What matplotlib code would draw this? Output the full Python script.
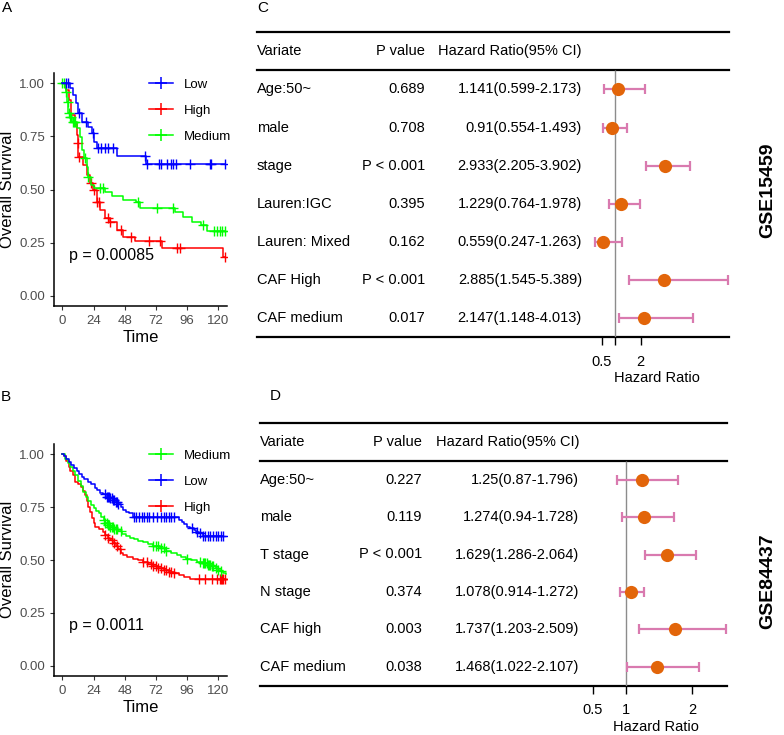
import numpy as np
import matplotlib
matplotlib.use('Agg')
import matplotlib.pyplot as plt
from matplotlib.lines import Line2D

plt.rcParams['font.family'] = ['Liberation Sans', 'DejaVu Sans']

W, H = 784, 735

## --- dati curve di sopravvivenza (lettura approssimata) ---
# pannello A
a_low_t = [6, 8.5, 10.3, 12.3, 14.9, 20, 22.6, 24.6, 26.5, 41.8, 64.5]
a_low_s = [0.976, 0.945, 0.907, 0.859, 0.82, 0.796, 0.765, 0.725, 0.694, 0.656, 0.618]
a_low_cens = [3, 4.5, 13, 18, 23.5, 27.4, 30, 32.5, 35, 39, 63.5, 65, 74.6, 75.6, 80.8,
              83.4, 85.4, 87.5, 98.2, 113.6, 114.4, 125.5]

a_high_t = [3, 5, 7, 9.7, 11, 11.7, 12.3, 16, 18.8, 21.3, 23.8, 26.5, 29, 32.8, 36.7,
            41.8, 47, 56, 76.5, 124]
a_high_s = [0.97, 0.92, 0.85, 0.81, 0.757, 0.72, 0.655, 0.615, 0.568, 0.53, 0.498, 0.443,
            0.403, 0.364, 0.348, 0.31, 0.278, 0.259, 0.223, 0.184]
a_high_cens = [12, 13, 22, 24.5, 27, 28, 35, 37, 45, 53, 67, 75, 88, 90.5, 125.5]

a_med_t = [2.5, 3.4, 4.6, 6, 7.2, 11, 13.6, 15.4, 16.9, 18.7, 20, 22, 24, 32.8, 38, 47,
           57, 60, 87, 93, 99.5, 107, 111]
a_med_s = [0.96, 0.913, 0.86, 0.84, 0.82, 0.788, 0.749, 0.686, 0.647, 0.607, 0.56, 0.521,
           0.506, 0.49, 0.47, 0.45, 0.44, 0.415, 0.395, 0.372, 0.348, 0.333, 0.305]
a_med_cens = [0, 1, 3, 4, 5, 6, 7, 8, 9, 10, 17.5, 20, 29, 31.5, 58.5, 72.5, 85.4, 108.5,
              117, 119, 121, 123, 125.5]

# pannello B
b_low_t = [1, 3, 5, 7, 9, 11, 13, 15, 17, 20, 22, 25, 27, 29, 31, 34, 37, 39, 41, 43, 45,
           47, 49, 51, 54, 90, 92, 94, 96, 98, 101, 103, 105, 108]
b_low_s = [0.99, 0.98, 0.965, 0.95, 0.935, 0.92, 0.905, 0.894, 0.885, 0.87, 0.86, 0.84,
           0.83, 0.815, 0.81, 0.80, 0.795, 0.785, 0.775, 0.765, 0.75, 0.737, 0.728, 0.72,
           0.705, 0.69, 0.68, 0.67, 0.658, 0.65, 0.642, 0.634, 0.626, 0.615]
b_low_cens = [33, 34, 35, 36, 37, 38, 39, 40, 41, 42, 43, 55, 57, 59, 61, 63, 65, 67, 70,
              73, 76, 78, 80, 82, 84, 86, 100, 104, 106, 108, 110, 112, 114, 116, 118,
              120, 122, 124]

b_med_t = [2, 4, 6, 8, 10, 12, 14, 16, 18, 20, 22, 24, 26, 28, 30, 32, 33, 35, 37, 40,
           43, 46, 49, 52, 55, 58, 62, 66, 70, 75, 80, 84, 88, 91, 95, 99, 104, 108, 112,
           115, 118, 120, 122, 124, 126]
b_med_s = [0.98, 0.96, 0.94, 0.92, 0.90, 0.875, 0.85, 0.82, 0.80, 0.78, 0.76, 0.745,
           0.73, 0.72, 0.705, 0.69, 0.675, 0.665, 0.655, 0.645, 0.635, 0.625, 0.615, 0.605,
           0.60, 0.59, 0.585, 0.575, 0.565, 0.555, 0.545, 0.535, 0.525, 0.515, 0.505, 0.50,
           0.492, 0.485, 0.478, 0.47, 0.46, 0.455, 0.448, 0.44, 0.435]
b_med_cens = [32, 33, 34, 35, 36, 37, 38, 39, 40, 41, 42, 45, 70, 72, 74, 76, 78, 80, 96,
              106, 108, 109, 110, 111, 112, 113, 114, 115, 116, 118, 120, 122]

b_high_t = [1, 3, 5, 6, 8, 10, 12, 14, 16, 17.5, 19, 20, 21, 22.6, 24, 25.5, 28, 31, 33,
            35, 37, 39, 41, 43, 45, 47, 50, 54, 58, 62, 66, 70, 74, 78, 82, 86, 90, 94, 98]
b_high_s = [0.99, 0.97, 0.94, 0.92, 0.90, 0.87, 0.86, 0.845, 0.825, 0.807, 0.78, 0.752,
            0.725, 0.697, 0.675, 0.657, 0.645, 0.632, 0.62, 0.605, 0.595, 0.58, 0.565,
            0.55, 0.535, 0.525, 0.516, 0.506, 0.498, 0.49, 0.48, 0.47, 0.46, 0.452, 0.445,
            0.437, 0.428, 0.42, 0.41]
b_high_cens = [33, 35, 38, 40, 42, 44, 62, 65, 68, 70, 72, 74, 76, 78, 80, 82, 84, 86,
               105, 110, 115, 119, 121, 122, 123, 124, 125]

## --- dati forest plot ---
c_vars = ['Age:50~', 'male', 'stage', 'Lauren:IGC', 'Lauren: Mixed', 'CAF High', 'CAF medium']
c_p = ['0.689', '0.708', 'P < 0.001', '0.395', '0.162', 'P < 0.001', '0.017']
c_hr = [1.141, 0.91, 2.933, 1.229, 0.559, 2.885, 2.147]
c_lo = [0.599, 0.554, 2.205, 0.764, 0.247, 1.545, 1.148]
c_hi = [2.173, 1.493, 3.902, 1.978, 1.263, 5.389, 4.013]

d_vars = ['Age:50~', 'male', 'T stage', 'N stage', 'CAF high', 'CAF medium']
d_p = ['0.227', '0.119', 'P < 0.001', '0.374', '0.003', '0.038']
d_hr = [1.25, 1.274, 1.629, 1.078, 1.737, 1.468]
d_lo = [0.87, 0.94, 1.286, 0.914, 1.203, 1.022]
d_hi = [1.796, 1.728, 2.064, 1.272, 2.509, 2.107]

BLUE, RED, GREEN = '#0000FF', '#FF0000', '#00FF00'
PINK, ORANGE = '#D97AAF', '#E2650A'


def px_axes(fig, x0, y0, x1, y1):
    # rettangolo in pixel (origine in alto a sinistra)
    return fig.add_axes([x0 / W, 1 - y1 / H, (x1 - x0) / W, (y1 - y0) / H])


def step_at(t_ev, s_ev, t):
    t_ev = np.asarray(t_ev)
    idx = np.searchsorted(t_ev, t, side='right') - 1
    return np.where(idx >= 0, np.asarray(s_ev)[np.clip(idx, 0, None)], 1.0)


def km_panel(ax, curves, order, pval):
    for name, (t, s, cens, col) in curves.items():
        xs = np.concatenate([[0], t, [max(max(t), max(cens))]])
        ys = np.concatenate([[1.0], s, [s[-1]]])
        ax.step(xs, ys, where='post', color=col, lw=1.1)
        ax.plot(cens, step_at(t, s, np.asarray(cens, float)), ls='none', marker='+',
                color=col, ms=7, mew=1.0)
    ax.set_xlim(-6.2, 126.5)
    ax.set_ylim(-0.047, 1.05)
    ax.set_xticks([0, 24, 48, 72, 96, 120])
    ax.set_yticks([0, 0.25, 0.5, 0.75, 1.0])
    ax.set_yticklabels(['0.00', '0.25', '0.50', '0.75', '1.00'])
    for sp in ['top', 'right']:
        ax.spines[sp].set_visible(False)
    for sp in ['left', 'bottom']:
        ax.spines[sp].set_linewidth(1.1)
    ax.tick_params(labelsize=9.5, length=3, width=0.8, colors='#333333', labelcolor='#4D4D4D')
    ax.set_ylabel('Overall Survival', fontsize=12, labelpad=3)
    ax.set_xlabel('Time', fontsize=12, labelpad=2)
    ax.text(5, 0.19, pval, fontsize=11.5, va='center', ha='left')
    handles = [Line2D([], [], color=curves[k][3], marker='+', ms=9, mew=1.1, lw=1.1)
               for k in order]
    ax.legend(handles, order, loc='upper left', bbox_to_anchor=(0.55, 0.975), frameon=False,
              fontsize=9.5, handlelength=1.8, handletextpad=0.8, labelspacing=1.05,
              borderpad=0, borderaxespad=0)


def forest_panel(fig, box, vars_, pv, hr, lo, hi, cols, fx, ticklabels):
    x0, y0, x1, y1 = box
    n = len(vars_)
    ax_t = px_axes(fig, x0, y0, x1, y1)
    ax_t.set_xlim(0, 1)
    ax_t.set_ylim(n - 0.5, -1.5)
    ax_t.axis('off')
    for yy in [-1.5, -0.5, n - 0.5]:
        ax_t.axhline(yy, color='black', lw=1.6, clip_on=False)
    fs = 10.5
    ax_t.text(0, -1, 'Variate', fontsize=fs, va='center', ha='left')
    ax_t.text(cols[0], -1, 'P value', fontsize=fs, va='center', ha='right')
    ax_t.text(cols[1], -1, 'Hazard Ratio(95% CI)', fontsize=fs, va='center', ha='right')
    for i in range(n):
        ax_t.text(0, i, vars_[i], fontsize=fs, va='center', ha='left')
        ax_t.text(cols[0], i, pv[i], fontsize=fs, va='center', ha='right')
        ax_t.text(cols[1], i, f'{hr[i]}({lo[i]}-{hi[i]})', fontsize=fs, va='center', ha='right')

    # fx: (pixel sinistro, pixel destro, pixel di HR=1, pixel per unità)
    fl, fr, p1, ppu = fx
    ax_f = px_axes(fig, fl, y0, fr, y1)
    ax_f.set_xlim(1 + (fl - p1) / ppu, 1 + (fr - p1) / ppu)
    ax_f.set_ylim(n - 0.5, -1.5)
    ax_f.patch.set_visible(False)
    for sp in ax_f.spines.values():
        sp.set_visible(False)
    hr_a, lo_a, hi_a = np.array(hr), np.array(lo), np.array(hi)
    yy = np.arange(n)
    ax_f.vlines(1, -0.5, n - 0.5, color='#8C8C8C', lw=1.0)
    ax_f.errorbar(hr_a, yy, xerr=[hr_a - lo_a, hi_a - hr_a], fmt='none', ecolor=PINK,
                  elinewidth=1.6, capsize=3.5, capthick=1.6)
    ax_f.plot(hr_a, yy, 'o', color=ORANGE, ms=9.5, mec='none')
    ax_f.set_yticks([])
    ax_f.set_xticks([0.5, 1, 2])
    ax_f.set_xticklabels(ticklabels)
    ax_f.tick_params(axis='x', direction='out', length=5.5, width=1.0, pad=7, labelsize=fs)
    ax_f.set_xlabel('Hazard Ratio', fontsize=fs, labelpad=2)
    return ax_t, ax_f


fig = plt.figure(figsize=(W / 100, H / 100), dpi=100)

ax_a = px_axes(fig, 54.3, 72.7, 226.7, 305.7)
km_panel(ax_a, {'High': (a_high_t, a_high_s, a_high_cens, RED),
                'Medium': (a_med_t, a_med_s, a_med_cens, GREEN),
                'Low': (a_low_t, a_low_s, a_low_cens, BLUE)},
         ['Low', 'High', 'Medium'], 'p = 0.00085')

ax_b = px_axes(fig, 54.3, 443.7, 226.7, 675.7)
km_panel(ax_b, {'High': (b_high_t, b_high_s, b_high_cens, RED),
                'Medium': (b_med_t, b_med_s, b_med_cens, GREEN),
                'Low': (b_low_t, b_low_s, b_low_cens, BLUE)},
         ['Medium', 'Low', 'High'], 'p = 0.0011')

forest_panel(fig, (257, 32.3, 729, 337.3), c_vars, c_p, c_hr, c_lo, c_hi,
             ((425 - 257) / 472, (582 - 257) / 472), (585, 729, 614.7, 25.9),
             ['0.5', '', '2'])
forest_panel(fig, (260, 423.3, 727, 685.7), d_vars, d_p, d_hr, d_lo, d_hi,
             ((422 - 260) / 467, (579 - 260) / 467), (585, 727, 625.7, 66.3),
             ['0.5', '1', '2'])

fig.text(768 / W, 1 - 190 / H, 'GSE15459', rotation=90, fontsize=14, fontweight='bold',
         ha='center', va='center')
fig.text(768 / W, 1 - 581 / H, 'GSE84437', rotation=90, fontsize=14, fontweight='bold',
         ha='center', va='center')

for lab, (x, y) in {'A': (7, 8), 'B': (6, 397), 'C': (263, 8), 'D': (275, 396)}.items():
    fig.text(x / W, 1 - y / H, lab, fontsize=11, ha='center', va='center')

fig.savefig('out.png', dpi=100)
